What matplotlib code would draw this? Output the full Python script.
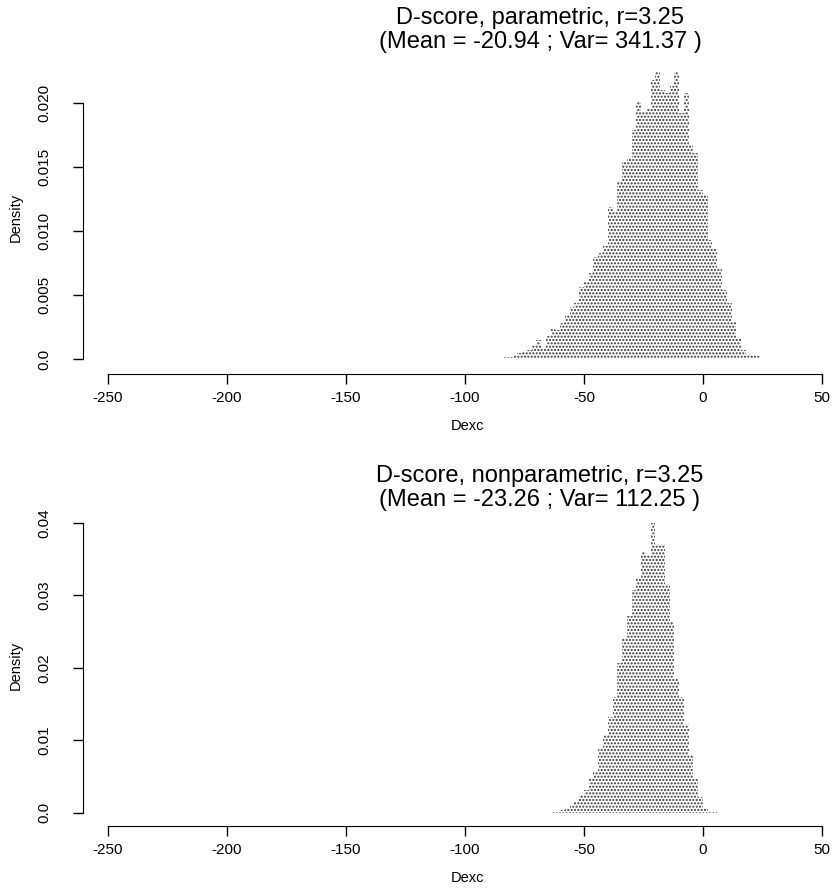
import matplotlib
matplotlib.use("Agg")
import matplotlib.pyplot as plt

plt.rcParams['font.family'] = ['Liberation Sans', 'DejaVu Sans']
plt.rcParams['hatch.linewidth'] = 1.0

W, H = 834, 888

# ---- data (bin width 2, densities) ----
bin_width = 2

par_left = list(range(-84, 26, 2))
par_density = [0.00018, 0.00018, 0.0003, 0.0005, 0.0006, 0.0007, 0.0010, 0.0015, 0.0008, 0.0018,
               0.0024, 0.0023, 0.0028, 0.0034, 0.0041, 0.0044, 0.0056, 0.0061, 0.0067, 0.0080,
               0.0083, 0.0088, 0.0119, 0.0116, 0.0139, 0.0155, 0.0157, 0.0179, 0.0201, 0.0193,
               0.0195, 0.0218, 0.0224, 0.0210, 0.0208, 0.0213, 0.0224, 0.0192, 0.0208, 0.0167,
               0.0161, 0.0132, 0.0128, 0.0093, 0.0086, 0.0070, 0.0054, 0.0044, 0.0029, 0.0016,
               0.0007, 0.0004, 0.0003, 0.0002, 0.0001]

npar_left = list(range(-64, 6, 2))
npar_density = [0.0001, 0.0002, 0.0004, 0.0006, 0.0009, 0.0015, 0.0024, 0.0032, 0.0047, 0.0057,
                0.0089, 0.0107, 0.0132, 0.0160, 0.0206, 0.0240, 0.0272, 0.0307, 0.0323, 0.0360,
                0.0355, 0.0399, 0.0371, 0.0371, 0.0316, 0.0263, 0.0185, 0.0160, 0.0123, 0.0080,
                0.0047, 0.0022, 0.0006, 0.0002, 0.0001]

x_ticks = [-250, -200, -150, -100, -50, 0, 50]
par_yticks = [0.0, 0.005, 0.010, 0.015, 0.020]
par_yticklabels = ['0.0', '0.005', '0.010', '0.015', '0.020']
npar_yticks = [0.0, 0.01, 0.02, 0.03, 0.04]
npar_yticklabels = ['0.0', '0.01', '0.02', '0.03', '0.04']

par_title = "D-score, parametric, r=3.25\n(Mean = -20.94 ; Var= 341.37 )"
npar_title = "D-score, nonparametric, r=3.25\n(Mean = -23.26 ; Var= 112.25 )"


def px_axes(fig, left, right, top, bottom):
    return fig.add_axes([left / W, 1 - bottom / H, (right - left) / W, (bottom - top) / H])


def draw_hist(ax, lefts, dens, yticks, ylabels, ylim):
    ax.bar(lefts, dens, width=bin_width, align='edge', facecolor='white',
           edgecolor='#333333', hatch='.....', linewidth=0)
    ax.set_xlim(-260.5, 62.2)
    ax.set_ylim(*ylim)
    ax.spines['top'].set_visible(False)
    ax.spines['right'].set_visible(False)
    ax.spines['left'].set_bounds(yticks[0], yticks[-1])
    ax.spines['bottom'].set_bounds(-250, 50)
    ax.set_xticks(x_ticks)
    ax.set_xticklabels([str(t) for t in x_ticks], fontsize=11)
    ax.set_yticks(yticks)
    ax.set_yticklabels(ylabels, fontsize=11, rotation=90, va='center')
    ax.tick_params(direction='out', length=7, width=1, pad=5)
    ax.tick_params(axis='y', pad=16)
    ax.set_xlabel('Dexc', fontsize=10.5, labelpad=10)
    ax.set_ylabel('Density', fontsize=10.5, labelpad=10)
    ax.patch.set_alpha(0)


fig = plt.figure(figsize=(W / 100, H / 100), dpi=100)

ax1 = px_axes(fig, 83, 851, 60, 374)
draw_hist(ax1, par_left, par_density, par_yticks, par_yticklabels,
          ((359 - 374) / 12800, (359 - 60) / 12800))

ax2 = px_axes(fig, 83, 851, 505, 826)
draw_hist(ax2, npar_left, npar_density, npar_yticks, npar_yticklabels,
          ((812.7 - 826) / 7250, (812.7 - 505) / 7250))

fig.text(540 / W, 1 - 7 / H, par_title, ha='center', va='top', fontsize=17, linespacing=1.1)
fig.text(540 / W, 1 - 465 / H, npar_title, ha='center', va='top', fontsize=17, linespacing=1.1)

fig.savefig('out.png', dpi=100)
